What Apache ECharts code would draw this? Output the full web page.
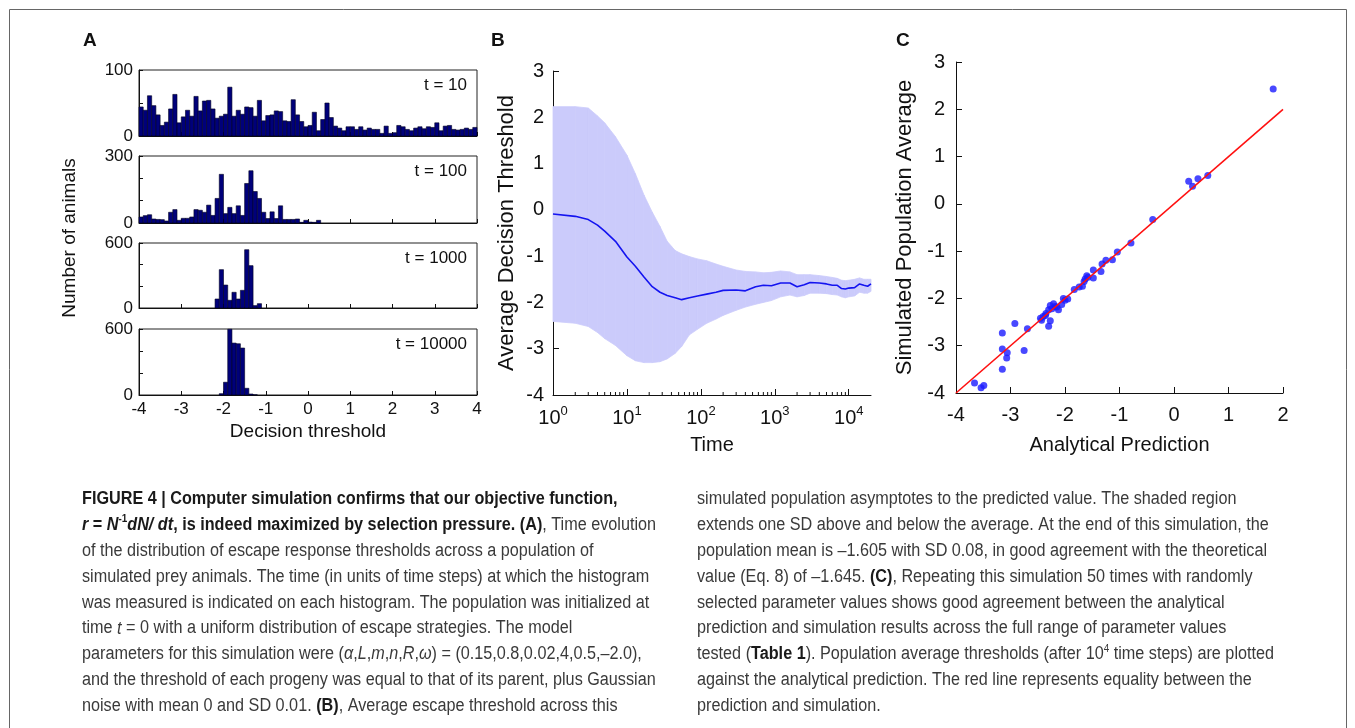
<!DOCTYPE html>
<html><head><meta charset="utf-8">
<script src="https://cdn.jsdelivr.net/npm/echarts@6/dist/echarts.min.js"></script>
<style>html,body{margin:0;padding:0;background:#fff}#c{width:1355px;height:728px}</style>
</head><body><div id="c"></div>
<script>
// ---------- Panel A: histograms (bin width 0.1, counts listed from the start edge) ----------
const binWidth = 0.1;
const hist10Start = -4.0;
const hist10 = [44,39,61,46,32,16,21,41,63,20,29,39,30,60,38,53,54,41,27,30,
                33,74,30,39,33,44,43,30,54,23,31,32,38,37,23,22,55,32,22,14,
                16,36,8,25,50,28,15,12,8,14,14,10,14,9,12,10,10,4,15,4,
                5,16,14,10,8,12,14,11,14,13,20,8,15,16,10,9,10,12,10,13];
const hist100Start = -4.0;
const hist100 = [27,33,37,18,16,15,9,48,60,12,21,21,27,60,57,48,80,34,110,218,
                 42,70,42,77,34,177,234,141,110,48,20,50,20,77,16,16,16,18,3,12,4,3,12];
const hist1000Start = -2.2;
const hist1000 = [83,354,212,71,145,83,163,538,391,22,40];
const hist10000Start = -2.1;
const hist10000 = [12,116,598,472,466,427,61,9,2];
const histTimeLabels = ['t = 10','t = 100','t = 1000','t = 10000'];
const histYMax = [100,300,600,600];
const histYStep = [50,100,200,200];

// ---------- Panel B: average decision threshold vs time (mean, mean-SD, mean+SD) ----------
const bTimes = [1,2,3,4,5,7,10,13,17,22,28,35,45,55,70,90,120,160,200,300,400,550,700,900,1200,1600,2000,2500,3000,4000,5000,6000,7000,8000,9000,10000,12000,14000,16000,18000,20000];
const bMean  = [-0.09,-0.14,-0.21,-0.33,-0.46,-0.68,-1.02,-1.22,-1.45,-1.66,-1.78,-1.85,-1.90,-1.94,-1.90,-1.86,-1.82,-1.78,-1.74,-1.73,-1.75,-1.66,-1.63,-1.64,-1.58,-1.58,-1.66,-1.62,-1.57,-1.58,-1.60,-1.63,-1.63,-1.70,-1.71,-1.69,-1.68,-1.60,-1.63,-1.65,-1.60];
const bUpper = [2.23,2.23,2.20,2.03,1.88,1.58,1.18,0.78,0.32,-0.05,-0.36,-0.68,-0.88,-0.95,-1.01,-1.06,-1.10,-1.17,-1.22,-1.30,-1.33,-1.34,-1.36,-1.35,-1.32,-1.34,-1.40,-1.40,-1.40,-1.42,-1.44,-1.46,-1.48,-1.52,-1.53,-1.52,-1.50,-1.47,-1.50,-1.50,-1.50];
const bLower = [-2.41,-2.45,-2.52,-2.65,-2.78,-2.93,-3.15,-3.26,-3.30,-3.30,-3.28,-3.22,-3.10,-2.95,-2.70,-2.58,-2.45,-2.36,-2.28,-2.17,-2.10,-2.04,-2.00,-1.96,-1.88,-1.84,-1.88,-1.85,-1.80,-1.80,-1.81,-1.83,-1.84,-1.88,-1.90,-1.88,-1.86,-1.78,-1.80,-1.80,-1.76];
const bMinorTicks = [2,3,4,5,6,7,8,9,20,30,40,50,60,70,80,90,200,300,400,500,600,700,800,900,2000,3000,4000,5000,6000,7000,8000,9000];

// ---------- Panel C: analytical prediction vs simulated population average ----------
const cPredicted = [1.82,0.27,0.34,0.44,0.62,-0.39,-0.79,-1.04,-1.13,-1.25,-1.32,-1.34,-1.48,-1.48,-1.60,-1.63,-1.65,-1.68,-1.74,-1.83,-1.95,-2.03,-2.06,-2.12,-2.18,-2.21,-2.27,-2.30,-2.35,-2.40,-2.43,-2.27,-2.30,-2.69,-2.92,-2.75,-3.15,-3.15,-3.06,-3.07,-3.15,-3.66,-3.54,-3.49,-2.36,-2.24,-2.00,-1.58,-2.15,-2.45];
const cSimulated = [2.43,0.48,0.37,0.53,0.60,-0.33,-0.83,-1.02,-1.18,-1.19,-1.27,-1.43,-1.40,-1.57,-1.52,-1.59,-1.64,-1.74,-1.76,-1.81,-2.01,-2.00,-2.13,-2.24,-2.17,-2.11,-2.15,-2.24,-2.32,-2.38,-2.46,-2.47,-2.59,-2.64,-2.53,-3.10,-2.73,-3.07,-3.15,-3.26,-3.50,-3.79,-3.89,-3.84,-2.36,-2.22,-2.04,-1.55,-2.18,-2.42];
const cEquality = [-4, 2];

// ---------- Caption ----------
const captionLeft = [
  [['b','FIGURE 4 | Computer simulation confirms that our objective function,']],
  [['bi','r'],['b',' = '],['bi','N'],['bsup','-1'],['bi','dN/ dt'],['b',', is indeed maximized by selection pressure. (A)'],['r',', Time evolution']],
  [['r','of the distribution of escape response thresholds across a population of']],
  [['r','simulated prey animals. The time (in units of time steps) at which the histogram']],
  [['r','was measured is indicated on each histogram. The population was initialized at']],
  [['r','time '],['i','t'],['r',' = 0 with a uniform distribution of escape strategies. The model']],
  [['r','parameters for this simulation were ('],['i','α'],['r',','],['i','L'],['r',','],['i','m'],['r',','],['i','n'],['r',','],['i','R'],['r',','],['i','ω'],['r',') = (0.15,0.8,0.02,4,0.5,–2.0),']],
  [['r','and the threshold of each progeny was equal to that of its parent, plus Gaussian']],
  [['r','noise with mean 0 and SD 0.01. '],['b','(B)'],['r',', Average escape threshold across this']]
];
const captionRight = [
  [['r','simulated population asymptotes to the predicted value. The shaded region']],
  [['r','extends one SD above and below the average. At the end of this simulation, the']],
  [['r','population mean is –1.605 with SD 0.08, in good agreement with the theoretical']],
  [['r','value (Eq. 8) of –1.645. '],['b','(C)'],['r',', Repeating this simulation 50 times with randomly']],
  [['r','selected parameter values shows good agreement between the analytical']],
  [['r','prediction and simulation results across the full range of parameter values']],
  [['r','tested ('],['b','Table 1'],['r','). Population average thresholds (after 10'],['sup','4'],['r',' time steps) are plotted']],
  [['r','against the analytical prediction. The red line represents equality between the']],
  [['r','prediction and simulation.']]
];

// ================= build =================
const FONT = '"Liberation Sans", Arial, Helvetica, sans-serif';
const BLACK = '#111';
const BAND = '#cbcbfb';
const chart = echarts.init(document.getElementById('c'), null, {renderer: 'canvas'});

const histStarts = [hist10Start, hist100Start, hist1000Start, hist10000Start];
const histCounts = [hist10, hist100, hist1000, hist10000];
const histTops = [70, 156, 243, 329];
const histHeights = [66, 67, 65, 66];

const grids = [];
const xAxes = [];
const yAxes = [];
const series = [];
const graphics = [];

function axisLineStyle() { return {show: true, onZero: false, lineStyle: {color: BLACK, width: 1}}; }

for (let i = 0; i < 4; i++) {
  grids.push({left: 139, top: histTops[i], width: 338, height: histHeights[i],
    show: true, borderColor: '#222', borderWidth: 1, backgroundColor: 'transparent'});
  xAxes.push({type: 'value', gridIndex: i, min: -4, max: 4, interval: 1,
    axisLine: axisLineStyle(), splitLine: {show: false},
    axisTick: {show: true, inside: true, length: 4, lineStyle: {color: BLACK}},
    axisLabel: {show: i === 3, fontFamily: FONT, fontSize: 17, color: BLACK, margin: 6}});
  const ymax = histYMax[i];
  yAxes.push({type: 'value', gridIndex: i, min: 0, max: ymax, interval: histYStep[i],
    axisLine: axisLineStyle(), splitLine: {show: false},
    axisTick: {show: true, inside: true, length: 4, lineStyle: {color: BLACK}},
    axisLabel: {fontFamily: FONT, fontSize: 17, color: BLACK, margin: 6,
      formatter: v => (v === 0 || v === ymax) ? String(v) : ''}});
  const start = histStarts[i];
  const data = histCounts[i].map((c, k) => [start + k * binWidth, c]).filter(d => d[1] > 0);
  series.push({type: 'custom', xAxisIndex: i, yAxisIndex: i, data: data, silent: true,
    renderItem: (params, api) => {
      const x0 = api.value(0), v = api.value(1);
      const p0 = api.coord([x0, 0]);
      const p1 = api.coord([x0 + binWidth, v]);
      return {type: 'rect', shape: {x: p0[0], y: p1[1], width: p1[0] - p0[0], height: p0[1] - p1[1]},
        style: {fill: '#00007a', stroke: '#000020', lineWidth: 0.6}};
    }});
  graphics.push({type: 'text', x: 467, y: histTops[i] + 15,
    style: {text: histTimeLabels[i], fontFamily: FONT, fontSize: 17, fill: BLACK, align: 'right', verticalAlign: 'middle'}});
}
// Panel A titles
xAxes[3].name = 'Decision threshold';
xAxes[3].nameLocation = 'middle';
xAxes[3].nameGap = 27;
xAxes[3].nameTextStyle = {fontFamily: FONT, fontSize: 19, color: BLACK};
graphics.push({type: 'text', x: 70, y: 238, rotation: Math.PI / 2,
  style: {text: 'Number of animals', fontFamily: FONT, fontSize: 19, fill: BLACK, align: 'center', verticalAlign: 'middle'}});

// Panel B
grids.push({left: 553, top: 71, width: 318, height: 324});
xAxes.push({type: 'log', logBase: 10, gridIndex: 4, min: 1, max: 20000,
  axisLine: axisLineStyle(), splitLine: {show: false},
  axisTick: {show: true, inside: true, length: 6, lineStyle: {color: BLACK}},
  axisLabel: {fontFamily: FONT, color: BLACK, margin: 10, showMaxLabel: false,
    formatter: v => {
      const e = Math.round(Math.log10(v));
      if (Math.abs(Math.pow(10, e) - v) > 1e-6 * v) return '';
      return '{b|10}{s|' + e + '}';
    },
    rich: {b: {fontFamily: FONT, fontSize: 20, color: BLACK, lineHeight: 26},
           s: {fontFamily: FONT, fontSize: 13, color: BLACK, lineHeight: 14, verticalAlign: 'top'}}},
  name: 'Time', nameLocation: 'middle', nameGap: 40,
  nameTextStyle: {fontFamily: FONT, fontSize: 20, color: BLACK}});
yAxes.push({type: 'value', gridIndex: 4, min: -4, max: 3, interval: 1,
  axisLine: axisLineStyle(), splitLine: {show: false},
  axisTick: {show: true, inside: true, length: 6, lineStyle: {color: BLACK}},
  axisLabel: {fontFamily: FONT, fontSize: 20, color: BLACK, margin: 9},
  name: 'Average Decision Threshold', nameLocation: 'middle', nameGap: 35,
  nameTextStyle: {fontFamily: FONT, fontSize: 22, color: BLACK}});
// SD band: one quadrilateral per interval between consecutive sample times
const bandData = [];
for (let k = 0; k < bTimes.length - 1; k++) {
  bandData.push([bTimes[k], bLower[k], bUpper[k], bTimes[k + 1], bLower[k + 1], bUpper[k + 1]]);
}
series.push({type: 'custom', xAxisIndex: 4, yAxisIndex: 4, silent: true, z: 1,
  data: bandData,
  renderItem: (params, api) => {
    const a = api.coord([api.value(0), api.value(1)]);
    const b = api.coord([api.value(0), api.value(2)]);
    const c = api.coord([api.value(3), api.value(5)]);
    const d = api.coord([api.value(3), api.value(4)]);
    return {type: 'polygon', shape: {points: [a, b, c, d]},
      style: {fill: BAND, stroke: BAND, lineWidth: 0.8}};
  }});
series.push({type: 'line', xAxisIndex: 4, yAxisIndex: 4, symbol: 'none', silent: true, z: 3,
  lineStyle: {color: '#1414f0', width: 1.6}, data: bTimes.map((t, k) => [t, bMean[k]])});
series.push({type: 'custom', xAxisIndex: 4, yAxisIndex: 4, silent: true, z: 4,
  data: bMinorTicks.map(t => [t, -4]),
  renderItem: (params, api) => {
    const p = api.coord([api.value(0), api.value(1)]);
    return {type: 'line', shape: {x1: p[0], y1: p[1], x2: p[0], y2: p[1] - 3}, style: {stroke: BLACK, lineWidth: 1}};
  }});

// Panel C
grids.push({left: 956, top: 62, width: 327, height: 331});
xAxes.push({type: 'value', gridIndex: 5, min: -4, max: 2, interval: 1,
  axisLine: axisLineStyle(), splitLine: {show: false},
  axisTick: {show: true, inside: true, length: 6, lineStyle: {color: BLACK}},
  axisLabel: {fontFamily: FONT, fontSize: 20, color: BLACK, margin: 12},
  name: 'Analytical Prediction', nameLocation: 'middle', nameGap: 42,
  nameTextStyle: {fontFamily: FONT, fontSize: 20, color: BLACK}});
yAxes.push({type: 'value', gridIndex: 5, min: -4, max: 3, interval: 1,
  axisLine: axisLineStyle(), splitLine: {show: false},
  axisTick: {show: true, inside: true, length: 6, lineStyle: {color: BLACK}},
  axisLabel: {fontFamily: FONT, fontSize: 20, color: BLACK, margin: 11},
  name: 'Simulated Population Average', nameLocation: 'middle', nameGap: 40,
  nameTextStyle: {fontFamily: FONT, fontSize: 22, color: BLACK}});
series.push({type: 'line', xAxisIndex: 5, yAxisIndex: 5, symbol: 'none', silent: true,
  lineStyle: {color: '#ff1010', width: 1.6}, data: cEquality.map(v => [v, v])});
series.push({type: 'scatter', xAxisIndex: 5, yAxisIndex: 5, symbolSize: 7, silent: true,
  itemStyle: {color: '#1a1aff'}, data: cPredicted.map((x, k) => [x, cSimulated[k]])});

// Panel letters
[['A', 83], ['B', 491], ['C', 896]].forEach(([t, x]) => graphics.push({type: 'text', x: x, y: 41,
  style: {text: t, fontFamily: FONT, fontSize: 19, fontWeight: 'bold', fill: BLACK, verticalAlign: 'middle'}}));

// frame
graphics.push({type: 'rect', shape: {x: 9.5, y: 9.5, width: 1337, height: 760},
  style: {fill: 'none', stroke: '#666', lineWidth: 1}});

// caption
const CAP_SIZE = 18, CAP_SX = 0.9;
const capRich = {
  r: {fontFamily: FONT, fontSize: CAP_SIZE, fill: '#3a3a3a', color: '#3a3a3a', lineHeight: 22},
  i: {fontFamily: FONT, fontSize: CAP_SIZE, fontStyle: 'italic', fill: '#3a3a3a', color: '#3a3a3a', lineHeight: 22},
  b: {fontFamily: FONT, fontSize: CAP_SIZE, fontWeight: 'bold', fill: '#1a1a1a', color: '#1a1a1a', lineHeight: 22},
  bi: {fontFamily: FONT, fontSize: CAP_SIZE, fontWeight: 'bold', fontStyle: 'italic', fill: '#1a1a1a', color: '#1a1a1a', lineHeight: 22},
  bsup: {fontFamily: FONT, fontSize: 11, fontWeight: 'bold', fill: '#1a1a1a', color: '#1a1a1a', lineHeight: 12, verticalAlign: 'top'},
  sup: {fontFamily: FONT, fontSize: 11, fill: '#3a3a3a', color: '#3a3a3a', lineHeight: 12, verticalAlign: 'top'}
};
function capText(segs) { return segs.map(s => '{' + s[0] + '|' + s[1] + '}').join(''); }
const CAP_Y0 = 499, CAP_DY = 25.9;
captionLeft.forEach((segs, k) => graphics.push({type: 'text', x: 82, y: CAP_Y0 + k * CAP_DY, scaleX: CAP_SX,
  style: {text: capText(segs), rich: capRich, verticalAlign: 'middle', align: 'left'}}));
captionRight.forEach((segs, k) => graphics.push({type: 'text', x: 697, y: CAP_Y0 + k * CAP_DY, scaleX: CAP_SX,
  style: {text: capText(segs), rich: capRich, verticalAlign: 'middle', align: 'left'}}));

chart.setOption({
  animation: false,
  backgroundColor: '#fff',
  grid: grids, xAxis: xAxes, yAxis: yAxes, series: series,
  graphic: graphics
});
</script></body></html>
